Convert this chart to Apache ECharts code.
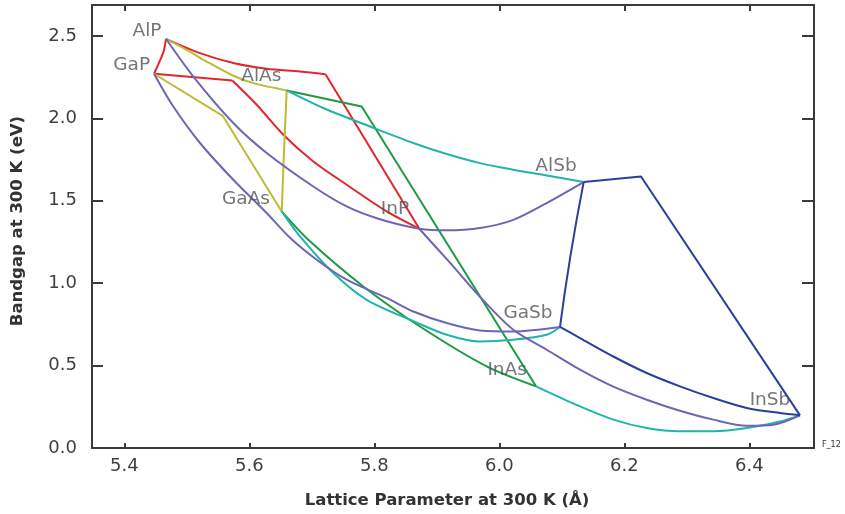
<!DOCTYPE html>
<html>
<head>
<meta charset="utf-8">
<script src="https://cdn.jsdelivr.net/npm/echarts@6/dist/echarts.min.js"></script>
<style>html,body{margin:0;padding:0;background:#fff}#c{width:845px;height:514px}</style>
</head>
<body>
<div id="c"></div>
<script>
// ---- axis ticks ----
const xTicks = [5.4, 5.6, 5.8, 6.0, 6.2, 6.4];
const yTicks = [0.0, 0.5, 1.0, 1.5, 2.0, 2.5];

// ---- compound labels (text anchor in data units) ----
const compoundNames = ['AlP', 'GaP', 'AlAs', 'GaAs', 'InP', 'AlSb', 'GaSb', 'InAs', 'InSb'];
const labelA  = [5.4363, 5.4118, 5.6192, 5.5947, 5.8331, 6.0907, 6.0459, 6.0125, 6.4331];
const labelEg = [2.527, 2.324, 2.253, 1.508, 1.451, 1.712, 0.820, 0.473, 0.287];

// ---- ternary curves: [lattice (Å), bandgap (eV)] ----
// red
const alGaP   = [[5.4667,2.482],[5.4627,2.403],[5.4547,2.330],[5.4475,2.270]];
const alInP_a = [[5.4667,2.482],[5.5211,2.395],[5.5744,2.335],[5.6278,2.300],[5.6811,2.284],[5.7219,2.267]];
const alInP_b = [[5.7219,2.267],[5.872,1.330]];
const gaInP_a = [[5.4475,2.270],[5.5728,2.229]];
const gaInP_b = [[5.5728,2.229],[5.6118,2.082],[5.6544,1.900],[5.7024,1.738],[5.7558,1.597],[5.8198,1.435],[5.872,1.330]];
// olive
const alPAs   = [[5.4667,2.482],[5.4998,2.415],[5.5318,2.344],[5.5744,2.258],[5.6064,2.213],[5.6598,2.169]];
const gaPAs   = [[5.4475,2.270],[5.5574,2.015],[5.6518,1.435]];
const alGaAs  = [[5.6598,2.169],[5.6555,1.800],[5.6518,1.435]];
// green
const alInAs  = [[5.6598,2.169],[5.7798,2.071],[6.0587,0.374]];
const gaInAs  = [[5.6518,1.435],[5.6944,1.263],[5.7824,0.980],[5.8731,0.737],[5.9798,0.495],[6.0587,0.374]];
// teal
const alAsSb  = [[5.6598,2.169],[5.7184,2.062],[5.7931,1.950],[5.8624,1.850],[5.9158,1.783],[5.9691,1.728],[6.0224,1.688],[6.0758,1.653],[6.135,1.613]];
const gaAsSb  = [[5.6518,1.435],[5.6811,1.283],[5.7344,1.061],[5.7878,0.899],[5.8624,0.770],[5.9158,0.687],[5.9691,0.646],[6.0224,0.657],[6.0758,0.687],[6.0971,0.734]];
const inAsSb  = [[6.0587,0.374],[6.1291,0.252],[6.1824,0.172],[6.2358,0.121],[6.2891,0.101],[6.3424,0.101],[6.3958,0.121],[6.4491,0.161],[6.4811,0.198]];
// purple
const alPSb   = [[5.4667,2.482],[5.5104,2.253],[5.5744,1.971],[5.6278,1.789],[5.7024,1.586],[5.7558,1.465],[5.8091,1.387],[5.872,1.330],[5.9158,1.320],[5.9691,1.334],[6.0224,1.384],[6.0758,1.486],[6.135,1.613]];
const gaPSb   = [[5.4475,2.270],[5.4784,2.071],[5.5211,1.850],[5.5744,1.627],[5.6278,1.425],[5.6651,1.275],[5.7078,1.142],[5.7558,1.021],[5.8198,0.910],[5.8624,0.828],[5.9158,0.758],[5.9691,0.713],[6.0224,0.707],[6.0971,0.734]];
const inPSb   = [[5.872,1.330],[5.921,1.124],[5.9691,0.917],[6.0224,0.717],[6.0758,0.596],[6.1291,0.475],[6.1824,0.372],[6.2358,0.293],[6.2891,0.226],[6.3424,0.172],[6.3958,0.135],[6.4384,0.141],[6.4811,0.198]];
// dark blue
const alInSb  = [[6.135,1.613],[6.2267,1.647],[6.4811,0.198]];
const alGaSb  = [[6.135,1.613],[6.1140,1.170],[6.0971,0.734]];
const gaInSb  = [[6.0971,0.734],[6.1291,0.667],[6.1824,0.555],[6.2358,0.455],[6.2891,0.374],[6.3424,0.303],[6.3958,0.243],[6.4491,0.212],[6.4811,0.198]];

// ---- styling ----
const C = {red:'#e3262b', olive:'#bcbc34', green:'#1d9a42', teal:'#22b4aa', purple:'#6c66b4', blue:'#2a3f9c'};
const curves = [
  ['AlGaP', alGaP, C.red, 0.3], ['AlInP a', alInP_a, C.red, 0.3], ['AlInP b', alInP_b, C.red, 0],
  ['GaInP a', gaInP_a, C.red, 0], ['GaInP b', gaInP_b, C.red, 0.3],
  ['AlPAs', alPAs, C.olive, 0.3], ['GaPAs', gaPAs, C.olive, 0], ['AlGaAs', alGaAs, C.olive, 0.5],
  ['AlInAs', alInAs, C.green, 0], ['GaInAs', gaInAs, C.green, 0.3],
  ['AlAsSb', alAsSb, C.teal, 0.3], ['GaAsSb', gaAsSb, C.teal, 0.3], ['InAsSb', inAsSb, C.teal, 0.3],
  ['AlPSb', alPSb, C.purple, 0.3], ['GaPSb', gaPSb, C.purple, 0.3], ['InPSb', inPSb, C.purple, 0.3],
  ['AlInSb', alInSb, C.blue, 0], ['AlGaSb', alGaSb, C.blue, 0.5], ['GaInSb', gaInSb, C.blue, 0.3]
];

const xMin = 5.3483, xMax = 6.5035, yMin = 0, yMax = 2.687;
const axisColor = '#3a3a3a';
const FONT = 'DejaVu Sans';

const series = curves.map(([name, data, color, sm]) => ({
  name, type: 'line', data, smooth: sm, showSymbol: false, symbol: 'none',
  lineStyle: {color, width: 2}, itemStyle: {color}, animation: false, z: 2
}));
series.push({
  type: 'scatter', symbol: 'circle', symbolSize: 1, z: 5,
  itemStyle: {color: 'rgba(0,0,0,0)'},
  data: compoundNames.map((n, i) => ({name: n, value: [labelA[i], labelEg[i]]})),
  label: {show: true, position: 'inside', formatter: p => p.name, color: '#4f5358',
          fontFamily: FONT, fontSize: 18.5, align: 'center', verticalAlign: 'middle'},
  animation: false
});

function xAx(pos, showLabel, tickLen) {
  return {
    type: 'value', position: pos, min: xMin, max: xMax,
    axisLine: {show: true, onZero: false, lineStyle: {color: axisColor, width: 2}},
    axisTick: {show: true, inside: true, length: tickLen, customValues: xTicks, lineStyle: {color: axisColor, width: 2}},
    axisLabel: {show: showLabel, customValues: xTicks, formatter: v => v.toFixed(1), fontFamily: FONT, fontSize: 18, color: '#3f3f3f', margin: 9},
    splitLine: {show: false}
  };
}
function yAx(pos, showLabel, tickLen) {
  return {
    type: 'value', position: pos, min: yMin, max: yMax,
    axisLine: {show: true, onZero: false, lineStyle: {color: axisColor, width: 2}},
    axisTick: {show: true, inside: true, length: tickLen, customValues: yTicks, lineStyle: {color: axisColor, width: 2}},
    axisLabel: {show: showLabel, customValues: yTicks, formatter: v => v.toFixed(1), fontFamily: FONT, fontSize: 18, color: '#3f3f3f', margin: 15},
    splitLine: {show: false}
  };
}

const chart = echarts.init(document.getElementById('c'), null, {renderer: 'canvas'});
chart.setOption({
  animation: false,
  backgroundColor: '#fff',
  grid: {left: 92, right: 31, top: 5, bottom: 66, containLabel: false},
  xAxis: [xAx('bottom', true, 5), xAx('top', false, 6)],
  yAxis: [yAx('left', true, 11), yAx('right', false, 12)],
  series,
  graphic: [
    {type: 'text', x: 447, y: 501, style: {text: 'Lattice Parameter at 300 K (Å)', font: 'bold 16.5px "DejaVu Sans"', fill: '#333', textAlign: 'center', textVerticalAlign: 'middle'}},
    {type: 'text', x: 18, y: 221, rotation: Math.PI / 2, style: {text: 'Bandgap at 300 K (eV)', font: 'bold 16.5px "DejaVu Sans"', fill: '#333', textAlign: 'center', textVerticalAlign: 'middle'}},
    {type: 'text', x: 822, y: 445, style: {text: 'F_12', font: '8px "DejaVu Sans"', fill: '#333', textAlign: 'left', textVerticalAlign: 'middle'}}
  ]
});
</script>
</body>
</html>
